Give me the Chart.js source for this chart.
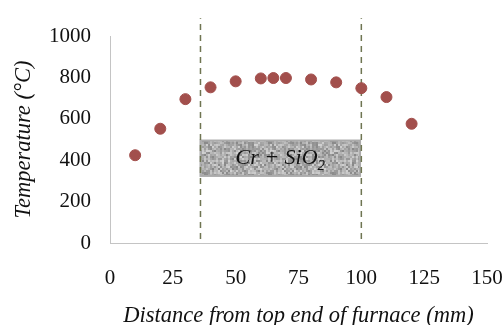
<!DOCTYPE html>
<html>
<head>
<meta charset="utf-8">
<script src="https://cdn.jsdelivr.net/npm/chart.js@4/dist/chart.umd.min.js"></script>
<style>
  html, body { margin: 0; padding: 0; background: #fff; }
  #wrap { width: 504px; height: 325px; }
</style>
</head>
<body>
<div id="wrap"><canvas id="chart"></canvas></div>
<script>
// ==========================================
// DATA
// ==========================================
const distances = [10, 20, 30, 40, 50, 60, 65, 70, 80, 90, 100, 110, 120];
const temperatures = [424, 552, 695, 752, 781, 795, 797, 797, 790, 776, 748, 705, 576];

// zone limits (dashed lines) and sample box
const zoneLines = [36, 100];
const zoneLineRange = [19, 1086];
const boxX = [36, 99.5];
const boxY = [324, 495];
const boxLabel = ['Cr + SiO', '2'];

const xTicks = [0, 25, 50, 75, 100, 125, 150];
const yTicks = [0, 200, 400, 600, 800, 1000];

const SERIF = '"Liberation Serif", "Times New Roman", serif';

// small deterministic grain pattern for the sample box
function makeGrain() {
    const c = document.createElement('canvas');
    c.width = 64; c.height = 32;
    const g = c.getContext('2d');
    g.fillStyle = '#a4a4a4';
    g.fillRect(0, 0, 64, 32);
    for (let y = 0; y < 32; y += 2) {
        for (let x = 0; x < 64; x += 2) {
            const h = Math.abs(Math.sin(x * 12.9898 + y * 78.233) * 43758.5453) % 1;
            const v = Math.round(135 + h * 75);
            g.fillStyle = `rgb(${v},${v},${v})`;
            g.fillRect(x, y, 2, 2);
        }
    }
    return c;
}

const boxPlugin = {
    id: 'sampleBox',
    beforeDatasetsDraw(chart) {
        const { ctx, scales: { x, y } } = chart;
        const x0 = x.getPixelForValue(boxX[0]);
        const x1 = x.getPixelForValue(boxX[1]);
        const y0 = y.getPixelForValue(boxY[1]);
        const y1 = y.getPixelForValue(boxY[0]);
        ctx.save();
        ctx.fillStyle = ctx.createPattern(makeGrain(), 'repeat');
        ctx.fillRect(x0, y0, x1 - x0, y1 - y0);
        ctx.strokeStyle = '#ababab';
        ctx.lineWidth = 2;
        ctx.strokeRect(x0, y0, x1 - x0, y1 - y0);

        // label with subscript
        ctx.fillStyle = '#111';
        ctx.textBaseline = 'middle';
        ctx.font = 'italic 22px ' + SERIF;
        const mainW = ctx.measureText(boxLabel[0]).width;
        ctx.font = 'italic 15px ' + SERIF;
        const subW = ctx.measureText(boxLabel[1]).width;
        const cx = (x0 + x1) / 2;
        const cy = (y0 + y1) / 2;
        const startX = cx - (mainW + subW) / 2;
        ctx.textAlign = 'left';
        ctx.font = 'italic 22px ' + SERIF;
        ctx.fillText(boxLabel[0], startX, cy);
        ctx.font = 'italic 15px ' + SERIF;
        ctx.fillText(boxLabel[1], startX + mainW, cy + 8);
        ctx.restore();
    }
};

const lineSets = zoneLines.map(v => ({
    type: 'line',
    data: [{ x: v, y: zoneLineRange[0] }, { x: v, y: zoneLineRange[1] }],
    borderColor: '#6f7552',
    borderWidth: 1.5,
    borderDash: [6, 5],
    pointRadius: 0,
    showLine: true,
    clip: false,
    order: 2
}));

new Chart(document.getElementById('chart'), {
    type: 'scatter',
    data: {
        datasets: [
            {
                data: distances.map((d, i) => ({ x: d, y: temperatures[i] })),
                backgroundColor: '#a24f4c',
                borderColor: '#a24f4c',
                pointRadius: 5.5,
                order: 1
            },
            ...lineSets
        ]
    },
    options: {
        responsive: true,
        maintainAspectRatio: false,
        animation: false,
        layout: { padding: { left: 0, right: 0, top: 36, bottom: 0 } },
        plugins: { legend: { display: false }, tooltip: { enabled: false } },
        scales: {
            x: {
                type: 'linear',
                min: 0, max: 150,
                afterBuildTicks: s => { s.ticks = xTicks.map(v => ({ value: v })); },
                afterFit: s => { s.height = 82; s.paddingLeft = 0; s.paddingRight = 17; },
                grid: { display: false, drawTicks: false },
                border: { color: '#c4c4c4', width: 1 },
                ticks: { color: '#111', padding: 23, maxRotation: 0, callback: v => String(v), font: { family: SERIF, size: 21 } },
                title: {
                    display: true,
                    text: 'Distance from top end of furnace (mm)',
                    color: '#111',
                    padding: { top: 0, bottom: -5 },
                    font: { family: SERIF, size: 22.5, style: 'italic' }
                }
            },
            y: {
                min: 0, max: 1000,
                afterBuildTicks: s => { s.ticks = yTicks.map(v => ({ value: v })); },
                afterFit: s => { s.width = 110; },
                grid: { display: false, drawTicks: false },
                border: { color: '#c4c4c4', width: 1 },
                ticks: { color: '#111', padding: 19, callback: v => String(v), font: { family: SERIF, size: 21 } },
                title: {
                    display: true,
                    text: 'Temperature (°C)',
                    color: '#111',
                    padding: { top: 11, bottom: 0 },
                    font: { family: SERIF, size: 22.5, style: 'italic' }
                }
            }
        }
    },
    plugins: [boxPlugin]
});
</script>
</body>
</html>
